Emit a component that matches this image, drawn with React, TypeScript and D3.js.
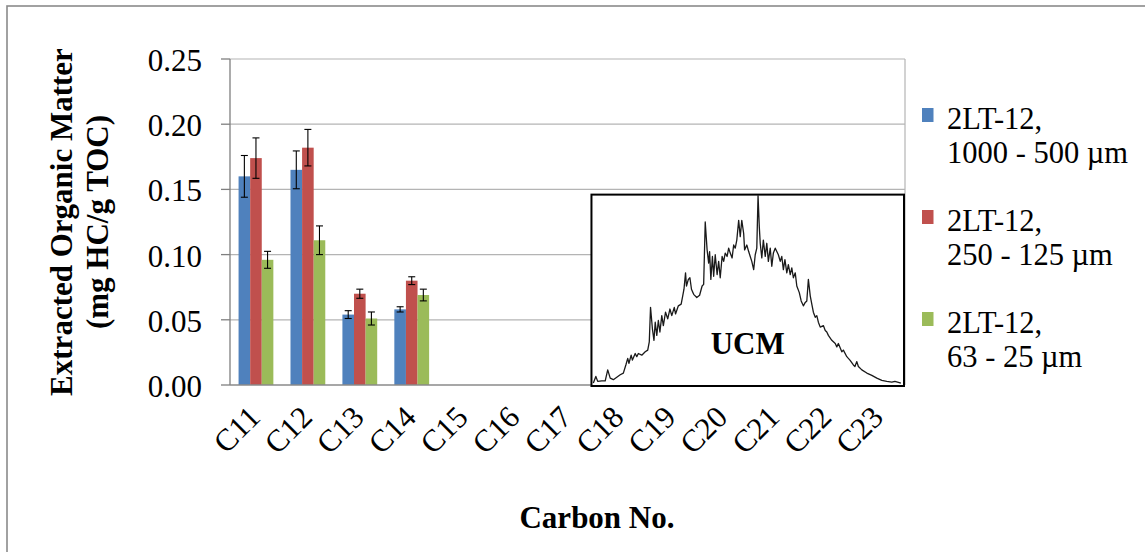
import React from "react";
import * as d3 from "d3";

const categories = ["C11","C12","C13","C14","C15","C16","C17","C18","C19","C20","C21","C22","C23"];
const seriesNames = ["2LT-12, 1000 - 500 µm", "2LT-12, 250 - 125 µm", "2LT-12, 63 - 25 µm"];
const legendLine1 = ["2LT-12,", "2LT-12,", "2LT-12,"];
const legendLine2 = ["1000 - 500 µm", "250 - 125 µm", "63 - 25 µm"];
const seriesColors = ["#4F81BD", "#C0504D", "#9BBB59"];

const valuesCoarse = [0.160, 0.165, 0.054, 0.058];
const valuesMedium = [0.174, 0.182, 0.070, 0.080];
const valuesFine = [0.096, 0.111, 0.051, 0.069];
const errCoarse = [0.016, 0.0145, 0.003, 0.002];
const errMedium = [0.0155, 0.014, 0.0035, 0.003];
const errFine = [0.0065, 0.011, 0.005, 0.0045];

const yTicks = [0, 0.05, 0.1, 0.15, 0.2, 0.25];

// UCM chromatogram trace (relative retention time 0-100, relative intensity 0-100)
const ucmTime = [0.6,1.4,2.0,3.3,4.4,5.2,6.0,7.0,9.2,10.2,11.0,11.6,12.0,12.7,13.1,14.0,14.5,15.0,16.1,17.2,18.0,18.5,18.9,19.5,20.0,20.4,20.9,21.4,21.9,22.5,23.0,23.7,24.4,25.1,25.7,26.5,26.9,27.8,28.7,29.2,29.6,30.1,30.4,31.0,31.5,32.0,32.7,33.7,34.6,35.4,35.9,36.4,37.0,37.5,37.8,38.2,38.7,39.1,39.6,40.2,40.7,41.2,41.8,42.3,42.8,43.4,43.9,44.4,45.0,45.5,46.0,46.5,47.1,47.6,48.1,48.7,49.0,49.7,50.3,50.8,51.3,51.9,52.4,52.9,53.3,53.7,54.0,54.5,55.0,55.6,56.1,56.6,57.2,57.7,58.2,58.8,59.3,59.8,60.4,60.9,61.4,61.9,62.5,63.0,63.6,64.1,64.6,65.2,65.7,66.5,67.1,67.8,68.4,68.9,69.4,70.0,70.5,71.0,71.6,72.1,72.6,73.2,74.2,74.8,75.3,75.8,76.9,78.0,78.5,79.0,80.1,80.6,81.7,82.7,83.8,84.3,84.9,85.4,86.5,88.1,89.7,91.3,92.9,94.5,96.1,97.1,98.2,99.0];
const ucmSignal = [0.5,4.0,1.4,1.7,1.7,7.5,3.1,2.3,4.9,5.8,10.1,13.6,11.0,15.3,12.7,16.2,14.5,16.2,15.3,17.1,18.0,22.4,40.7,29.3,23.2,32.8,25.8,33.7,27.6,36.3,31.0,38.1,34.6,39.8,36.3,40.7,37.2,41.5,42.4,46.8,50.3,59.0,52.0,55.5,56.4,50.3,47.6,45.9,47.1,52.0,52.9,86.0,71.2,64.2,70.3,55.5,67.7,57.2,68.6,58.1,65.1,56.4,67.7,65.1,69.5,67.7,72.1,69.5,66.9,73.8,72.1,76.4,86.9,78.2,86.9,79.9,71.2,73.8,70.3,67.7,65.1,60.7,68.6,72.1,100,83.4,74.7,66.9,76.4,67.7,74.7,65.1,72.1,62.5,69.5,72.1,70.3,68.6,65.1,67.7,60.7,66.0,59.0,63.4,58.1,61.6,56.4,59.0,52.0,48.5,44.1,41.5,43.3,44.1,55.5,46.8,42.4,38.1,35.4,36.3,32.8,30.2,31.0,28.4,27.6,25.8,23.2,21.5,19.7,21.5,17.1,18.0,14.5,12.7,10.1,9.3,11.9,9.3,7.5,5.8,4.6,3.1,1.9,1.4,1.0,1.4,0.9,0.5];

const W = 1145, H = 552;
const M = { left: 230, right: 905, top: 59, bottom: 385 };
const SERIF = "'Liberation Serif', 'Times New Roman', serif";

export default function App() {
  const y = d3.scaleLinear().domain([0, 0.25]).range([M.bottom, M.top]);
  const x0 = d3.scaleBand<string>().domain(categories).range([M.left, M.right]).paddingInner(0.33).paddingOuter(0.165);
  const x1 = d3.scaleBand<string>().domain(seriesNames).range([0, x0.bandwidth()]);
  const step = x0.step();

  const series = [
    { name: seriesNames[0], vals: valuesCoarse, errs: errCoarse, color: seriesColors[0] },
    { name: seriesNames[1], vals: valuesMedium, errs: errMedium, color: seriesColors[1] },
    { name: seriesNames[2], vals: valuesFine, errs: errFine, color: seriesColors[2] },
  ];

  // inset (UCM) placed from C18 band start to plot end, from 0 to 0.146
  const insetL = M.left + step * categories.indexOf("C18") - 2;
  const insetR = M.right - 1;
  const insetT = y(0.146);
  const insetB = y(0) + 1;
  const ix = d3.scaleLinear().domain([0, 100]).range([insetL, insetR]);
  const iy = d3.scaleLinear().domain([0, 100]).range([insetB - 2, insetT + 1]);
  const trace = d3.line<number>().x((_, i) => ix(ucmTime[i])).y((d) => iy(d));

  const capW = 3.5;

  return (
    <svg width={W} height={H} style={{ position: "absolute", left: 0, top: 0, background: "#fff" }} fontFamily={SERIF}>
      <rect x={0} y={0} width={W} height={H} fill="#fff" />
      <rect x={7} y={6} width={W + 10} height={H + 10} fill="none" stroke="#8a8a8a" strokeWidth={1.6} />

      {/* gridlines */}
      {yTicks.filter((t) => t > 0).map((t) => (
        <line key={t} x1={M.left} x2={M.right} y1={y(t)} y2={y(t)} stroke="#b4b4b4" strokeWidth={1.2} />
      ))}
      <line x1={M.right} x2={M.right} y1={M.top} y2={M.bottom} stroke="#b4b4b4" strokeWidth={1.2} />

      {/* bars */}
      {series.map((s) =>
        s.vals.map((v, i) => (
          <rect key={s.name + i} x={(x0(categories[i]) as number) + (x1(s.name) as number)} y={y(v)} width={x1.bandwidth()} height={y(0) - y(v)} fill={s.color} />
        ))
      )}
      {/* error bars */}
      {series.map((s) =>
        s.vals.map((v, i) => {
          const cx = (x0(categories[i]) as number) + (x1(s.name) as number) + x1.bandwidth() / 2;
          const yt = y(v + s.errs[i]);
          const yb = y(v - s.errs[i]);
          return (
            <g key={"e" + s.name + i} stroke="#000" strokeWidth={1.1}>
              <line x1={cx} x2={cx} y1={yt} y2={yb} />
              <line x1={cx - capW} x2={cx + capW} y1={yt} y2={yt} />
              <line x1={cx - capW} x2={cx + capW} y1={yb} y2={yb} />
            </g>
          );
        })
      )}

      {/* axes */}
      <line x1={M.left} x2={M.left} y1={M.top} y2={M.bottom} stroke="#7f7f7f" strokeWidth={1.3} />
      <line x1={M.left} x2={M.right} y1={M.bottom} y2={M.bottom} stroke="#8a8a8a" strokeWidth={1.3} />
      {yTicks.map((t) => (
        <g key={"t" + t}>
          <line x1={M.left - 9} x2={M.left} y1={y(t)} y2={y(t)} stroke="#7f7f7f" strokeWidth={1.3} />
          <text x={M.left - 28} y={y(t) + 12} textAnchor="end" fontSize={31} fill="#000">{t.toFixed(2)}</text>
        </g>
      ))}

      {/* category labels */}
      {categories.map((c) => {
        const cx = (x0(c) as number) + x0.bandwidth() / 2;
        return (
          <text key={c} transform={`translate(${cx + 6},${M.bottom + 34}) rotate(-45)`} textAnchor="end" fontSize={31} fill="#000">{c}</text>
        );
      })}

      {/* inset UCM */}
      <rect x={insetL} y={insetT} width={insetR - insetL} height={insetB - insetT} fill="#fff" stroke="#000" strokeWidth={2} />
      <path d={trace(ucmSignal) || ""} fill="none" stroke="#1a1a1a" strokeWidth={1.3} strokeLinejoin="round" />
      <text x={(insetL + insetR) / 2} y={354} textAnchor="middle" fontSize={31} fontWeight="bold" fill="#000">UCM</text>

      {/* axis titles */}
      <text transform={`translate(72,${(M.top + M.bottom) / 2}) rotate(-90)`} textAnchor="middle" fontSize={31} fontWeight="bold">
        <tspan x={0} y={0}>Extracted Organic Matter</tspan>
        <tspan x={0} y={36}>(mg HC/g TOC)</tspan>
      </text>
      <text x={597} y={528} textAnchor="middle" fontSize={31} fontWeight="bold">Carbon No.</text>

      {/* legend */}
      {series.map((s, i) => {
        const top = 103 + i * 102;
        return (
          <g key={"l" + i}>
            <rect x={922} y={top + 5} width={11.5} height={14} fill={s.color} />
            <text fontSize={30.5} fill="#000">
              <tspan x={947} y={top + 25.5}>{legendLine1[i]}</tspan>
              <tspan x={947} y={top + 59.5}>{legendLine2[i]}</tspan>
            </text>
          </g>
        );
      })}
    </svg>
  );
}
